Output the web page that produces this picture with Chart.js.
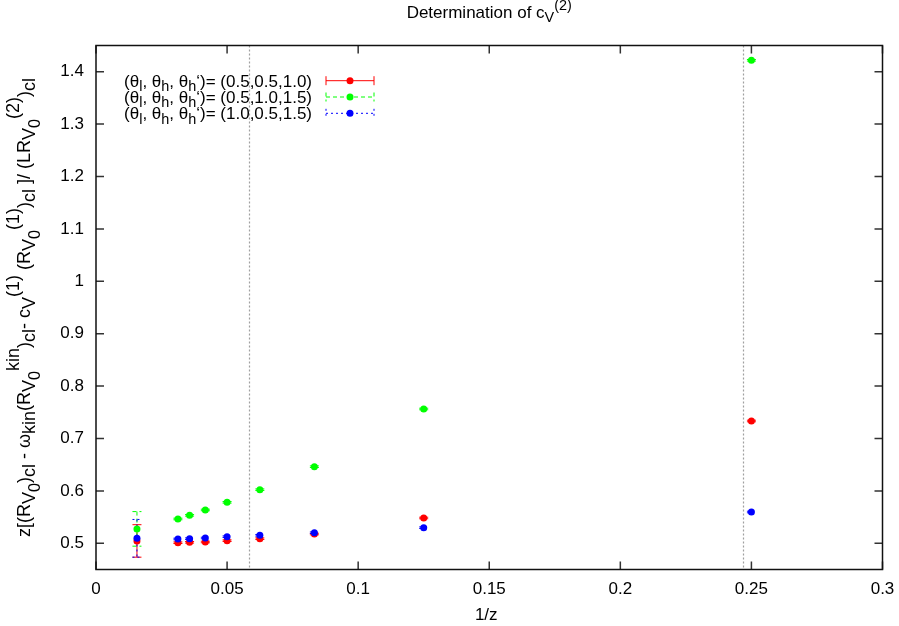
<!DOCTYPE html>
<html>
<head>
<meta charset="utf-8">
<script src="https://cdn.jsdelivr.net/npm/chart.js@4.4.1/dist/chart.umd.min.js"></script>
<style>
html,body{margin:0;padding:0;background:#fff;}
canvas{display:block;}
</style>
</head>
<body>
<canvas id="c" width="899" height="626"></canvas>
<script>
// ---- data ----
const xValues   = [0.015625, 0.03125, 0.0357, 0.0417, 0.05, 0.0625, 0.0833, 0.125, 0.25];
const redY      = [0.5045, 0.5011, 0.5019, 0.5025, 0.5050, 0.5088, 0.5177, 0.5483, 0.7334];
const redErr    = [0.031, 0.0015, 0.0015, 0.0015, 0.0015, 0.0015, 0.0015, 0.0015, 0.0015];
const greenY    = [0.5275, 0.5464, 0.5534, 0.5636, 0.5782, 0.6023, 0.6462, 0.7563, 1.4218];
const greenErr  = [0.033, 0.0015, 0.0015, 0.0015, 0.0015, 0.0015, 0.0015, 0.0015, 0.0015];
const blueY     = [0.5095, 0.5082, 0.5088, 0.5101, 0.5126, 0.5153, 0.5202, 0.5298, 0.5597];
const blueErr   = [0.036, 0.0015, 0.0015, 0.0015, 0.0015, 0.0015, 0.0015, 0.0015, 0.0015];
const vLines    = [0.0584, 0.2468];
const xTicks    = [0, 0.05, 0.1, 0.15, 0.2, 0.25, 0.3];
const yTicks    = [0.5, 0.6, 0.7, 0.8, 0.9, 1.0, 1.1, 1.2, 1.3, 1.4];
const seriesLabels = ["(0.5,0.5,1.0)", "(0.5,1.0,1.5)", "(1.0,0.5,1.5)"];
const seriesColors = ["#ff0000", "#00ff00", "#0000ff"];
const seriesDash   = [[], [4, 3], [2, 3]];

const FONT = '"Liberation Sans", Arial, Helvetica, sans-serif';
const FS = 17;

function pts(ys){ return xValues.map((x,i)=>({x:x, y:ys[i]})); }

// rich text: segments [text, dy(em), scale]
const N = t => [t, 0, 1];
const SUB = t => [t, 0.25, 0.85];
const SUBSUB = t => [t, 0.45, 0.72];
const SUP = t => [t, -0.5, 0.85];
// y-label style (larger sub/superscripts)
const YSUB = t => [t, 0.3, 1.0];
const YSUBSUB = t => [t, 0.55, 0.9];
const YSUP = t => [t, -0.6, 1.0];

function drawRich(ctx, segs, x, y, align, size){
  let w = 0;
  for (const s of segs){ ctx.font = (size*s[2]) + 'px ' + FONT; w += ctx.measureText(s[0]).width; }
  let cx = align === 'center' ? x - w/2 : (align === 'right' ? x - w : x);
  ctx.textAlign = 'left';
  ctx.textBaseline = 'alphabetic';
  for (const s of segs){
    ctx.font = (size*s[2]) + 'px ' + FONT;
    ctx.fillText(s[0], cx, y + s[1]*size);
    cx += ctx.measureText(s[0]).width;
  }
}

const errs = [redErr, greenErr, blueErr];

const decorPlugin = {
  id: 'decor',
  beforeDatasetsDraw(chart){
    const ctx = chart.ctx, xs = chart.scales.x, ys = chart.scales.y, a = chart.chartArea;
    ctx.save();
    ctx.strokeStyle = '#a0a0a0';
    ctx.lineWidth = 1.2;
    ctx.setLineDash([2, 2]);
    for (const v of vLines){
      const px = Math.round(xs.getPixelForValue(v)) + 0.5;
      ctx.beginPath(); ctx.moveTo(px, a.top); ctx.lineTo(px, a.bottom); ctx.stroke();
    }
    chart.data.datasets.forEach((ds, di) => {
      ctx.strokeStyle = seriesColors[di];
      ctx.lineWidth = 1;
      ctx.setLineDash(seriesDash[di]);
      ds.data.forEach((p, i) => {
        const px = xs.getPixelForValue(p.x);
        const y1 = ys.getPixelForValue(p.y + errs[di][i]);
        const y2 = ys.getPixelForValue(p.y - errs[di][i]);
        ctx.beginPath();
        ctx.moveTo(px, y1); ctx.lineTo(px, y2);
        ctx.moveTo(px - 4.5, y1); ctx.lineTo(px + 4.5, y1);
        ctx.moveTo(px - 4.5, y2); ctx.lineTo(px + 4.5, y2);
        ctx.stroke();
      });
    });
    ctx.restore();
  },
  afterDraw(chart){
    const ctx = chart.ctx, xs = chart.scales.x, ys = chart.scales.y, a = chart.chartArea;
    ctx.save();
    ctx.strokeStyle = '#333';
    ctx.lineWidth = 1.5;
    ctx.setLineDash([]);
    const TL = 8;
    for (const v of xTicks){
      const px = xs.getPixelForValue(v);
      ctx.beginPath();
      ctx.moveTo(px, a.bottom); ctx.lineTo(px, a.bottom - TL);
      ctx.moveTo(px, a.top); ctx.lineTo(px, a.top + TL);
      ctx.stroke();
    }
    for (const v of yTicks){
      const py = ys.getPixelForValue(v);
      ctx.beginPath();
      ctx.moveTo(a.left, py); ctx.lineTo(a.left + TL, py);
      ctx.moveTo(a.right, py); ctx.lineTo(a.right - TL, py);
      ctx.stroke();
    }
    ctx.strokeStyle = '#111';
    ctx.lineWidth = 1.5;
    ctx.strokeRect(a.left, a.top, a.right - a.left, a.bottom - a.top);

    ctx.fillStyle = '#000';
    drawRich(ctx, [N('Determination of c'), SUB('V'), SUP('(2)')], (a.left + a.right)/2, 18, 'center', FS);
    drawRich(ctx, [N('1/z')], (a.left + a.right)/2 - 3, 620, 'center', FS);
    ctx.save();
    ctx.translate(30, (a.top + a.bottom)/2);
    ctx.rotate(-Math.PI/2);
    drawRich(ctx, [
      N('z[(R'), YSUB('V'), YSUBSUB('0'), N(')'), YSUB('cl'),
      N(' - \u03c9'), YSUB('kin'), N('(R'), YSUB('V'), YSUBSUB('0'), YSUP('kin'), N(')'), YSUB('cl'),
      N('- c'), YSUB('V'), YSUP('(1)'),
      N(' (R'), YSUB('V'), YSUBSUB('0'), YSUP('(1)'), N(')'), YSUB('cl'),
      N(' ]/ (LR'), YSUB('V'), YSUBSUB('0'), YSUP('(2)'), N(')'), YSUB('cl')
    ], 0, 0, 'center', 18);
    ctx.restore();

    const rowsY = [80.7, 97, 113.3];
    for (let i = 0; i < 3; i++){
      const yy = rowsY[i];
      ctx.fillStyle = '#000';
      drawRich(ctx, [N('(\u03b8'), SUB('l'), N(', \u03b8'), SUB('h'), N(', \u03b8'), SUB('h'), N('\u2018)= ' + seriesLabels[i])],
               312, yy + 6, 'right', FS);
      ctx.strokeStyle = seriesColors[i];
      ctx.lineWidth = 1;
      ctx.setLineDash(seriesDash[i]);
      ctx.beginPath();
      ctx.moveTo(326, yy); ctx.lineTo(374, yy);
      ctx.moveTo(326, yy - 4.5); ctx.lineTo(326, yy + 4.5);
      ctx.moveTo(374, yy - 4.5); ctx.lineTo(374, yy + 4.5);
      ctx.stroke();
      ctx.setLineDash([]);
      ctx.fillStyle = seriesColors[i];
      ctx.beginPath(); ctx.arc(350, yy, 3.5, 0, Math.PI*2); ctx.fill();
    }
    ctx.restore();
  }
};

new Chart(document.getElementById('c'), {
  type: 'scatter',
  data: {
    datasets: [
      { label: seriesLabels[0], data: pts(redY),   backgroundColor: seriesColors[0], borderWidth: 0, pointRadius: 3.5, order: 3 },
      { label: seriesLabels[1], data: pts(greenY), backgroundColor: seriesColors[1], borderWidth: 0, pointRadius: 3.5, order: 2 },
      { label: seriesLabels[2], data: pts(blueY),  backgroundColor: seriesColors[2], borderWidth: 0, pointRadius: 3.5, order: 1 }
    ]
  },
  options: {
    responsive: false,
    animation: false,
    devicePixelRatio: 1,
    layout: { padding: { left: 0, right: 16.5, top: 45.5, bottom: 0 } },
    plugins: { legend: { display: false }, tooltip: { enabled: false }, title: { display: false } },
    scales: {
      x: {
        type: 'linear', min: 0, max: 0.3,
        afterBuildTicks: s => { s.ticks = xTicks.map(v => ({ value: v })); },
        afterFit: s => { s.height = 56.5; s.paddingLeft = 0; s.paddingRight = 0; },
        grid: { display: false, drawTicks: false },
        border: { display: false },
        ticks: { font: { family: FONT, size: FS }, color: '#000', padding: 10, maxRotation: 0,
                 callback: v => String(Math.round(v*1000)/1000) }
      },
      y: {
        type: 'linear', min: 0.45, max: 1.45,
        afterBuildTicks: s => { s.ticks = yTicks.map(v => ({ value: v })); },
        afterFit: s => { s.width = 96; s.paddingTop = 0; s.paddingBottom = 0; },
        grid: { display: false, drawTicks: false },
        border: { display: false },
        ticks: { font: { family: FONT, size: FS }, color: '#000', padding: 12,
                 callback: v => String(Math.round(v*1000)/1000) }
      }
    }
  },
  plugins: [decorPlugin]
});
</script>
</body>
</html>
